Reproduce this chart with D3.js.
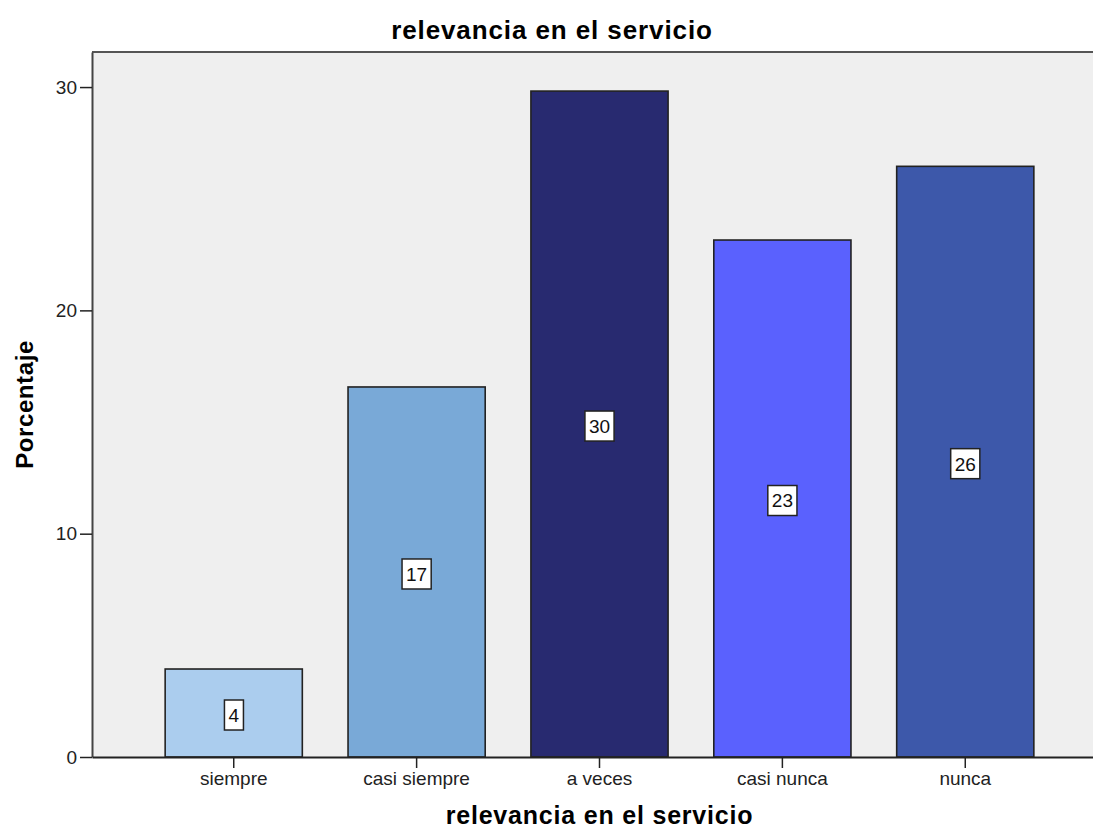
<!DOCTYPE html>
<html lang="es">
<head>
<meta charset="UTF-8">
<title>relevancia en el servicio</title>
<style>
  body { margin: 0; background: #fff; }
  svg { display: block; font-family: "Liberation Sans", Arial, sans-serif; }
</style>
</head>
<body>
<svg id="chart" width="1093" height="833"></svg>
<script src="https://d3js.org/d3.v7.min.js"></script>
<script>
// data
const categories = ["siempre", "casi siempre", "a veces", "casi nunca", "nunca"];
const percents = [3.94, 16.57, 29.82, 23.15, 26.45];
const barColors = ["#abcdee", "#79a9d7", "#282a70", "#5a61fe", "#3d58aa"];
const yTicks = [0, 10, 20, 30];
const chartTitle = "relevancia en el servicio";
const xTitle = "relevancia en el servicio";
const yTitle = "Porcentaje";

const svg = d3.select("#chart");
const plotLeft = 92, plotTop = 52, plotRight = 1107, plotBottom = 757;
const fontFam = "Liberation Sans, Arial, sans-serif";

const x = d3.scaleBand()
    .domain(categories)
    .range([plotLeft, plotRight])
    .paddingInner(0.25)
    .paddingOuter(0.4);

const y = d3.scaleLinear()
    .domain([0, 31.57])
    .range([plotBottom, plotTop]);

// plot background
svg.append("rect")
    .attr("x", plotLeft).attr("y", plotTop)
    .attr("width", plotRight - plotLeft).attr("height", plotBottom - plotTop)
    .attr("fill", "#efefef");

// frame top
svg.append("line")
    .attr("x1", plotLeft).attr("x2", plotRight)
    .attr("y1", plotTop).attr("y2", plotTop)
    .attr("stroke", "#555").attr("stroke-width", 2);

// bars
svg.append("g").selectAll("rect")
    .data(percents)
    .join("rect")
    .attr("x", (d, i) => x(categories[i]))
    .attr("y", d => y(d))
    .attr("width", x.bandwidth())
    .attr("height", d => plotBottom - y(d))
    .attr("fill", (d, i) => barColors[i])
    .attr("stroke", "#222")
    .attr("stroke-width", 1.6);

// value labels
const labels = svg.append("g").selectAll("g")
    .data(percents)
    .join("g")
    .attr("transform", (d, i) => `translate(${x(categories[i]) + x.bandwidth() / 2},${(y(d) + plotBottom) / 2 + 2})`);

labels.append("text")
    .attr("text-anchor", "middle")
    .attr("dy", "0.36em")
    .attr("font-size", 19)
    .attr("fill", "#111")
    .text(d => Math.round(d))
    .each(function() {
        const b = this.getBBox();
        d3.select(this.parentNode).insert("rect", "text")
            .attr("x", b.x - 4).attr("y", -15)
            .attr("width", b.width + 8).attr("height", 30)
            .attr("fill", "#fff")
            .attr("stroke", "#222")
            .attr("stroke-width", 1.5);
    });

// y axis
const yAxis = svg.append("g")
    .attr("transform", `translate(${plotLeft},0)`)
    .call(d3.axisLeft(y).tickValues(yTicks).tickSize(12).tickPadding(3).tickSizeOuter(0));
yAxis.select(".domain").attr("stroke", "#444").attr("stroke-width", 2);
yAxis.selectAll(".tick line").attr("stroke", "#222").attr("stroke-width", 1.5);
yAxis.selectAll(".tick text").attr("font-size", 19).attr("fill", "#222")
    .attr("font-family", fontFam);

// x axis
const xAxis = svg.append("g")
    .attr("transform", `translate(0,${plotBottom})`)
    .call(d3.axisBottom(x).tickSize(11).tickPadding(4).tickSizeOuter(0));
xAxis.select(".domain").attr("stroke", "#222").attr("stroke-width", 2);
xAxis.selectAll(".tick line").attr("stroke", "#222").attr("stroke-width", 1.5);
xAxis.selectAll(".tick text").attr("font-size", 19).attr("fill", "#222")
    .attr("font-family", fontFam);

// titles
svg.append("text")
    .attr("x", 552).attr("y", 39)
    .attr("text-anchor", "middle")
    .attr("font-size", 26).attr("font-weight", "bold")
    .attr("letter-spacing", 0.9)
    .text(chartTitle);

svg.append("text")
    .attr("x", (plotLeft + plotRight) / 2).attr("y", 824)
    .attr("text-anchor", "middle")
    .attr("font-size", 25).attr("font-weight", "bold")
    .attr("letter-spacing", 0.8)
    .text(xTitle);

svg.append("text")
    .attr("transform", `translate(33,${(plotTop + plotBottom) / 2}) rotate(-90)`)
    .attr("text-anchor", "middle")
    .attr("font-size", 24).attr("font-weight", "bold")
    .attr("letter-spacing", 0.6)
    .text(yTitle);
</script>
</body>
</html>
